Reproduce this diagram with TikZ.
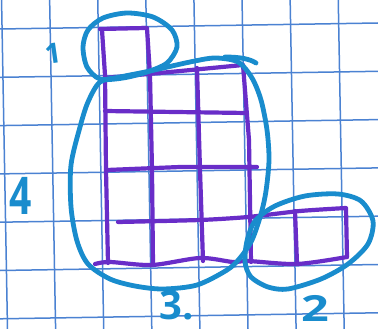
\documentclass[tikz,border=0pt]{standalone}
\usepackage{fontspec}
\newfontfamily\handfont{Open Sans}
\definecolor{gridblue}{RGB}{75,130,210}
\definecolor{pen}{RGB}{105,45,200}
\definecolor{marker}{RGB}{25,140,205}
\begin{document}
\begin{tikzpicture}[x=1pt,y=-1pt,
  gridline/.style={gridblue,line width=1.5pt},
  purp/.style={pen,line width=4.2pt,line cap=round,line join=round},
  blu/.style={marker,line width=4.8pt,line cap=round,line join=round},
  lbl/.style={marker,inner sep=0pt}]
\useasboundingbox (0,0) rectangle (378,329);
\fill[white] (0,0) rectangle (378,329);
% graph paper
\foreach \k in {0,...,7} {
  \pgfmathsetmacro\xa{3+48.1*\k}
  \draw[gridline] (\xa-1.45,0) -- (\xa+4.5,329);
}
\foreach \k in {0,...,6} {
  \pgfmathsetmacro\ya{28+48.3*\k}
  \draw[gridline] (0,\ya+1) -- (378,\ya-5);
}
% purple squares
\draw[purp] (100,29) -- (146,28);
\draw[purp] (102,30) -- (105,75) -- (106,170) -- (108,263);
\draw[purp] (147,28) -- (150,75) -- (152,170) -- (153,264);
\draw[purp] (197,68) -- (200,170) -- (203,261);
\draw[purp] (243,65) -- (249,140) -- (251,262);
\draw[purp] (105,78) -- (170,72) -- (243,65);
\draw[purp] (105,111) -- (247,113);
\draw[purp] (107,170) -- (180,167) -- (257,167);
\draw[purp] plot[smooth,tension=0.4] coordinates {(118,222) (200,220) (248,217) (300,211) (346,208)} -- (347,257);
\draw[purp] plot[smooth,tension=0.5] coordinates {(95,264) (110,262) (152,265) (200,258) (233,262) (248,261) (297,264) (347,257)};
\draw[purp] (295,211) -- (297,263);
% blue loops
\draw[blu] plot[smooth cycle] coordinates {(83,47) (88,30) (103,18) (127,13) (153,17) (172,30) (177,47) (167,63) (147,72) (123,78) (100,79) (87,67)};
\draw[blu] plot[smooth cycle] coordinates {(100,82) (88,102) (80,127) (71,165) (71,207) (77,241) (88,264) (110,279) (135,286) (163,289) (197,285) (227,270) (240,258) (252,240) (261,214) (266,191) (269,160) (267,130) (261,100) (252,78) (238,62) (215,58) (190,62) (150,71) (120,77)};
\draw[blu] (225,57) .. controls (240,57) and (250,59) .. (256,63);
\draw[blu] plot[smooth cycle] coordinates {(245,262) (247,241) (255,221) (275,206) (305,196) (338,194) (361,201) (373,221) (368,244) (348,264) (321,279) (288,289) (268,287) (251,277)};
% labels
\node[lbl,font=\handfont\bfseries\fontsize{28}{28}\selectfont,rotate=8] (one) at (53,53) {1};
\node[lbl,font=\handfont\bfseries\fontsize{52}{52}\selectfont,xscale=0.75] (four) at (21,196) {4};
\node[lbl,font=\handfont\bfseries\fontsize{40}{40}\selectfont] (three) at (177,305) {3.};
\node[lbl,font=\handfont\bfseries\fontsize{36}{36}\selectfont,xscale=1.35] (two) at (315.5,308) {2};
\end{tikzpicture}
\end{document}
